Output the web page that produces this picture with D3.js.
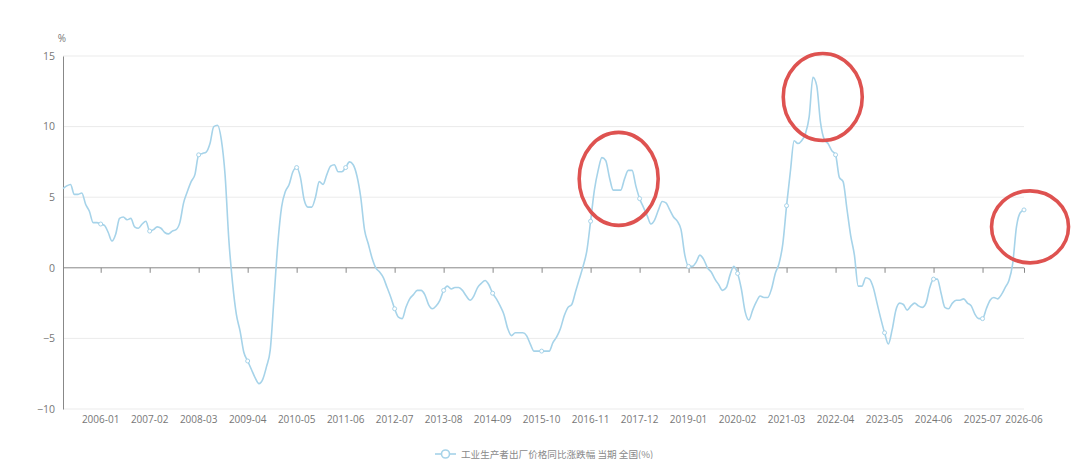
<!DOCTYPE html>
<html>
<head>
<meta charset="utf-8">
<script src="https://cdn.jsdelivr.net/npm/d3@7"></script>
<style>
  html, body { margin: 0; padding: 0; background: #fff; }
  svg { display: block; }
</style>
</head>
<body>
<div id="chart"></div>
<script>
// 数据：工业生产者出厂价格同比涨跌幅（%），2005-03 起按月
const startMonth = "2005-03";
const v2005 = [5.6, 5.8, 5.9, 5.2, 5.2, 5.3, 4.5, 4.0, 3.2, 3.2];
const v2006 = [3.1, 3.0, 2.5, 1.9, 2.4, 3.5, 3.6, 3.4, 3.5, 2.9, 2.8, 3.1];
const v2007 = [3.3, 2.6, 2.7, 2.9, 2.8, 2.5, 2.4, 2.6, 2.7, 3.2, 4.6, 5.4];
const v2008 = [6.1, 6.6, 8.0, 8.1, 8.2, 8.8, 10.0, 10.1, 9.1, 6.6, 2.0, -1.1];
const v2009 = [-3.3, -4.5, -6.0, -6.6, -7.2, -7.8, -8.2, -7.9, -7.0, -5.8, -2.1, 1.7];
const v2010 = [4.3, 5.4, 5.9, 6.8, 7.1, 6.4, 4.8, 4.3, 4.3, 5.0, 6.1, 5.9];
const v2011 = [6.6, 7.2, 7.3, 6.8, 6.8, 7.1, 7.5, 7.3, 6.5, 5.0, 2.7, 1.7];
const v2012 = [0.7, 0.0, -0.3, -0.7, -1.4, -2.1, -2.9, -3.5, -3.6, -2.8, -2.2, -1.9];
const v2013 = [-1.6, -1.6, -1.9, -2.6, -2.9, -2.7, -2.3, -1.6, -1.3, -1.5, -1.4, -1.4];
const v2014 = [-1.6, -2.0, -2.3, -2.0, -1.4, -1.1, -0.9, -1.2, -1.8, -2.2, -2.7, -3.3];
const v2015 = [-4.3, -4.8, -4.6, -4.6, -4.6, -4.8, -5.4, -5.9, -5.9, -5.9, -5.9, -5.9];
const v2016 = [-5.3, -4.9, -4.3, -3.4, -2.8, -2.6, -1.7, -0.8, 0.1, 1.2, 3.3, 5.5];
const v2017 = [6.9, 7.8, 7.6, 6.4, 5.5, 5.5, 5.5, 6.3, 6.9, 6.9, 5.8, 4.9];
const v2018 = [4.3, 3.7, 3.1, 3.4, 4.1, 4.7, 4.6, 4.1, 3.6, 3.3, 2.7, 0.9];
const v2019 = [0.1, 0.1, 0.4, 0.9, 0.6, 0.0, -0.3, -0.8, -1.2, -1.6, -1.4, -0.5];
const v2020 = [0.1, -0.4, -1.5, -3.1, -3.7, -3.0, -2.4, -2.0, -2.1, -2.1, -1.5, -0.4];
const v2021 = [0.3, 1.7, 4.4, 6.8, 9.0, 8.8, 9.0, 9.5, 10.7, 13.5, 12.9, 10.3];
const v2022 = [9.1, 8.8, 8.3, 8.0, 6.4, 6.1, 4.2, 2.3, 0.9, -1.3, -1.3, -0.7];
const v2023 = [-0.8, -1.4, -2.5, -3.6, -4.6, -5.4, -4.4, -3.0, -2.5, -2.6, -3.0, -2.7];
const v2024 = [-2.5, -2.7, -2.8, -2.5, -1.4, -0.8, -0.8, -1.8, -2.8, -2.9, -2.5, -2.3];
const v2025 = [-2.3, -2.2, -2.5, -2.7, -3.3, -3.6, -3.6, -2.9, -2.3, -2.1, -2.2, -1.9];
const v2026 = [-1.4, -0.9, 0.3, 2.9, 3.9, 4.1];

const values = [].concat(v2005, v2006, v2007, v2008, v2009, v2010, v2011, v2012, v2013,
  v2014, v2015, v2016, v2017, v2018, v2019, v2020, v2021, v2022, v2023, v2024, v2025, v2026);

// 类目：月份
const fmt = d3.timeFormat("%Y-%m");
const parseM = d3.timeParse("%Y-%m");
const t0 = parseM(startMonth);
const categories = values.map((_, i) => fmt(d3.timeMonth.offset(t0, i)));

const xTickLabels = ["2006-01", "2007-02", "2008-03", "2009-04", "2010-05", "2011-06",
  "2012-07", "2013-08", "2014-09", "2015-10", "2016-11", "2017-12", "2019-01", "2020-02",
  "2021-03", "2022-04", "2023-05", "2024-06", "2025-07", "2026-06"];
const yTicks = [-10, -5, 0, 5, 10, 15];
const seriesName = "工业生产者出厂价格同比涨跌幅 当期 全国(%)";

// 标注的红圈（月份 + 偏移月数，中心值，半径）
const highlights = [
  { month: "2017-06", off: 0.45, y: 6.3, rx: 39.5, ry: 46.5 },
  { month: "2021-12", off: 0.6, y: 12.1, rx: 39.5, ry: 43.5 },
  { month: "2026-07", off: 0.6, y: 2.9, rx: 38.5, ry: 36 }
];

// 画布
const width = 1080, height = 459;
const margin = { left: 63, right: 56, top: 56, bottom: 50 };
const lineColor = "#a6d3e9";

const svg = d3.select("#chart").append("svg")
  .attr("width", width)
  .attr("height", height);

const x = d3.scalePoint()
  .domain(categories)
  .range([margin.left, width - margin.right]);

const step = x.step();
// 任意月份（可超出数据范围）按步长换算
const xm = (m, off = 0) => x(categories[0]) + (d3.timeMonth.count(t0, parseM(m)) + off) * step;

const y = d3.scaleLinear()
  .domain([-10, 15])
  .range([height - margin.bottom, margin.top]);

// 网格线
svg.append("g")
  .selectAll("line")
  .data(yTicks.filter(d => d !== 0))
  .join("line")
  .attr("x1", margin.left)
  .attr("x2", width - margin.right)
  .attr("y1", d => y(d))
  .attr("y2", d => y(d))
  .attr("stroke", "#ebebeb")
  .attr("stroke-width", 1);

// Y 轴
const yAxis = svg.append("g")
  .attr("transform", `translate(${margin.left},0)`)
  .call(d3.axisLeft(y).tickValues(yTicks).tickSize(0).tickPadding(8));
yAxis.select(".domain").attr("stroke", "#888").attr("stroke-width", 1);
yAxis.selectAll("text")
  .attr("fill", "#777")
  .style("font-family", "'Open Sans', 'Noto Sans', sans-serif")
  .style("font-size", "10.5px");

svg.append("text")
  .attr("x", margin.left - 1)
  .attr("y", 42)
  .attr("text-anchor", "middle")
  .attr("fill", "#777")
  .style("font-family", "'Open Sans', 'Noto Sans', sans-serif")
  .style("font-size", "10px")
  .text("%");

// X 轴（零线位置）+ 底部标签
const xAxis = svg.append("g")
  .attr("transform", `translate(0,${y(0)})`)
  .call(d3.axisBottom(x).tickValues(xTickLabels).tickSize(5).tickFormat(""));
xAxis.select(".domain").attr("stroke", "#888").attr("stroke-width", 1)
  .attr("d", `M${margin.left},0H${width - margin.right}`);
xAxis.selectAll(".tick line").attr("stroke", "#888");

svg.append("g")
  .selectAll("text")
  .data(xTickLabels)
  .join("text")
  .attr("x", d => x(d))
  .attr("y", y(-10) + 14)
  .attr("text-anchor", "middle")
  .attr("fill", "#777")
  .style("font-family", "'Open Sans', 'Noto Sans', sans-serif")
  .style("font-size", "10px")
  .text(d => d);

// 折线
const line = d3.line()
  .x((d, i) => x(categories[i]))
  .y(d => y(d))
  .curve(d3.curveMonotoneX);

svg.append("path")
  .datum(values)
  .attr("fill", "none")
  .attr("stroke", lineColor)
  .attr("stroke-width", 1.6)
  .attr("d", line);

// 标签位置上的空心点
svg.append("g")
  .selectAll("circle")
  .data(xTickLabels)
  .join("circle")
  .attr("cx", d => x(d))
  .attr("cy", d => y(values[categories.indexOf(d)]))
  .attr("r", 2)
  .attr("fill", "#fff")
  .attr("stroke", lineColor)
  .attr("stroke-width", 1);

// 图例
const lg = svg.append("g").attr("transform", "translate(435,454)");
lg.append("line")
  .attr("x1", 0).attr("x2", 21).attr("y1", 0).attr("y2", 0)
  .attr("stroke", lineColor).attr("stroke-width", 1.6);
lg.append("circle")
  .attr("cx", 10.5).attr("cy", 0).attr("r", 4)
  .attr("fill", "#fff").attr("stroke", lineColor).attr("stroke-width", 1.6);
lg.append("text")
  .attr("x", 26)
  .attr("y", 3.5)
  .attr("fill", "#8a8a8a")
  .style("font-family", "'Noto Sans CJK SC', sans-serif")
  .style("font-size", "9.6px")
  .text(seriesName);

// 红圈标注
svg.append("g")
  .selectAll("ellipse")
  .data(highlights)
  .join("ellipse")
  .attr("cx", d => xm(d.month, d.off))
  .attr("cy", d => y(d.y))
  .attr("rx", d => d.rx)
  .attr("ry", d => d.ry)
  .attr("fill", "none")
  .attr("stroke", "#de5250")
  .attr("stroke-width", 3.6);
</script>
</body>
</html>
